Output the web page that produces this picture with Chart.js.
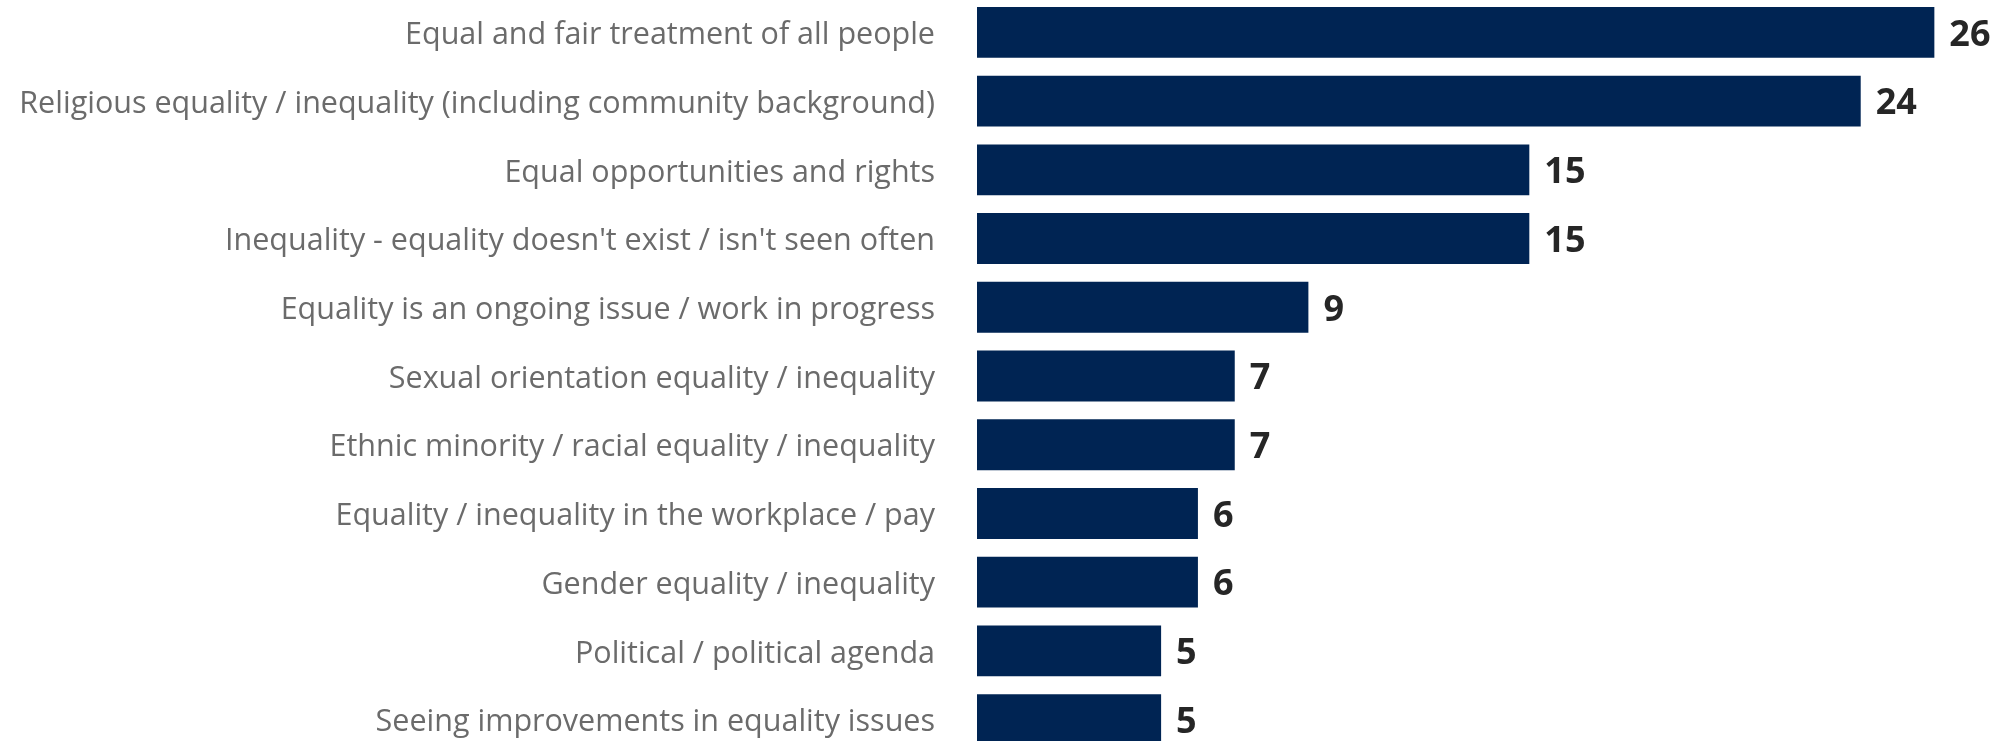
<!DOCTYPE html>
<html>
<head>
<meta charset="utf-8">
<script src="https://cdn.jsdelivr.net/npm/chart.js@4"></script>
<style>
  html, body { margin: 0; padding: 0; overflow: hidden; background: #fff; }
  #wrap { position: absolute; left: 0; top: -2px; width: 2008px; height: 756px; }
</style>
</head>
<body>
<div id="wrap"><canvas id="myChart"></canvas></div>
<script>
const categories = [
    'Equal and fair treatment of all people',
    'Religious equality / inequality (including community background)',
    'Equal opportunities and rights',
    "Inequality - equality doesn't exist / isn't seen often",
    'Equality is an ongoing issue / work in progress',
    'Sexual orientation equality / inequality',
    'Ethnic minority / racial equality / inequality',
    'Equality / inequality in the workplace / pay',
    'Gender equality / inequality',
    'Political / political agenda',
    'Seeing improvements in equality issues'
];
const values = [26, 24, 15, 15, 9, 7, 7, 6, 6, 5, 5];

// draw the number at the end of each bar
const valueLabels = {
    id: 'valueLabels',
    afterDatasetsDraw(chart) {
        const ctx = chart.ctx;
        const meta = chart.getDatasetMeta(0);
        ctx.save();
        ctx.font = 'bold 36px "Open Sans"';
        ctx.fillStyle = '#262626';
        ctx.textAlign = 'left';
        ctx.textBaseline = 'middle';
        meta.data.forEach((bar, i) => {
            ctx.fillText(String(values[i]), bar.x + 15, bar.y + 3);
        });
        ctx.restore();
    }
};

document.addEventListener("DOMContentLoaded", () => {
    const ctx = document.getElementById('myChart').getContext('2d');
    new Chart(ctx, {
        type: 'bar',
        data: {
            labels: categories,
            datasets: [{
                data: values,
                backgroundColor: '#002453',
                borderWidth: 0,
                categoryPercentage: 1,
                barPercentage: 0.74
            }]
        },
        options: {
            indexAxis: 'y',
            responsive: true,
            maintainAspectRatio: false,
            animation: false,
            layout: { padding: 0 },
            plugins: {
                legend: { display: false },
                tooltip: { enabled: false }
            },
            scales: {
                x: { display: false, min: 0, max: 28 },
                y: {
                    grid: { display: false },
                    border: { display: false },
                    ticks: {
                        padding: 34,
                        labelOffset: 3,
                        color: '#6b6b6b',
                        font: { family: '"Open Sans"', size: 30.5 }
                    },
                    afterFit(scale) {
                        scale.width = 977;
                        // keep the tick padding from shrinking the plot vertically
                        scale.paddingTop = 0;
                        scale.paddingBottom = 0;
                    }
                }
            }
        },
        plugins: [valueLabels]
    });
});
</script>
</body>
</html>
